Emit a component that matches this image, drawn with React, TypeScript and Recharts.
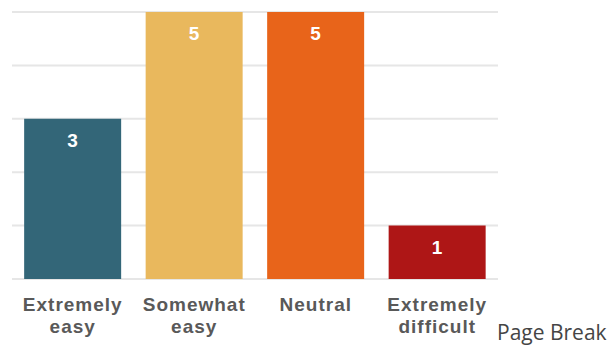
import React from "react";
import { BarChart, Bar, XAxis, YAxis, CartesianGrid, Cell, LabelList } from "recharts";

const categories = ["Extremely easy", "Somewhat easy", "Neutral", "Extremely difficult"];
const tickLines = [["Extremely", "easy"], ["Somewhat", "easy"], ["Neutral"], ["Extremely", "difficult"]];
const counts = [3, 5, 5, 1];
const barColors = ["#336678", "#E9B85D", "#E8641A", "#AE1616"];
const yTicks = [0, 1, 2, 3, 4, 5];

const data = categories.map((name, i) => ({ name, count: counts[i] }));

const CategoryTick = (props: any) => {
  const { x, y, index } = props;
  const lines = tickLines[index] || [];
  return (
    <g>
      {lines.map((t: string, i: number) => (
        <text
          key={i}
          x={x}
          y={y + 24 + i * 22}
          textAnchor="middle"
          fontFamily="Liberation Sans, Arial, sans-serif"
          fontWeight="bold"
          fontSize={19}
          letterSpacing={1}
          fill="#595959"
        >
          {t}
        </text>
      ))}
    </g>
  );
};

const ValueLabel = (props: any) => {
  const { x, y, width, value } = props;
  return (
    <text
      x={x + width / 2}
      y={y + 28}
      textAnchor="middle"
      fontFamily="Liberation Sans, Arial, sans-serif"
      fontWeight="bold"
      fontSize={19}
      fill="#ffffff"
    >
      {value}
    </text>
  );
};

export default function App() {
  return (
    <div style={{ position: "absolute", left: 0, top: 0, width: 616, height: 347, background: "#fff" }}>
      <BarChart
        width={616}
        height={347}
        data={data}
        margin={{ top: 12, right: 118, bottom: 0, left: 12 }}
        barCategoryGap="10%"
      >
        <CartesianGrid vertical={false} stroke="#e6e6e6" strokeWidth={2} />
        <YAxis hide domain={[0, 5]} ticks={yTicks} />
        <XAxis
          dataKey="name"
          height={68}
          axisLine={false}
          tickLine={false}
          interval={0}
          tick={<CategoryTick />}
        />
        <Bar dataKey="count" isAnimationActive={false}>
          {data.map((d, i) => (
            <Cell key={d.name} fill={barColors[i]} />
          ))}
          <LabelList dataKey="count" content={<ValueLabel />} />
        </Bar>
      </BarChart>
      <div
        style={{
          position: "absolute",
          left: 497,
          top: 319,
          fontFamily: "'Open Sans', 'Noto Sans', sans-serif",
          fontSize: 21,
          lineHeight: "26px",
          color: "#454545",
          whiteSpace: "nowrap",
        }}
      >
        Page Break
      </div>
    </div>
  );
}
